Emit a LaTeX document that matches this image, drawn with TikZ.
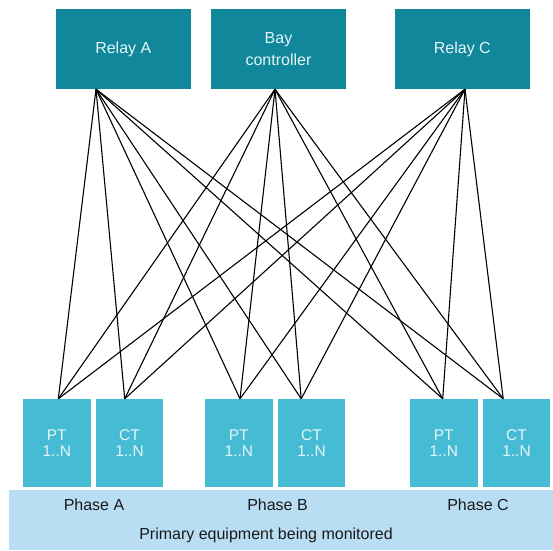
\documentclass[tikz,border=0pt]{standalone}
\usepackage{fontspec}
\setmainfont{Liberation Sans}
\usepackage{tikz}
\usetikzlibrary{positioning, calc}
\definecolor{relayteal}{HTML}{10879A}
\definecolor{sensorcyan}{HTML}{45BCD4}
\definecolor{bandblue}{HTML}{B9DEF4}
\definecolor{boxtext}{HTML}{E4F5F8}
\definecolor{darktext}{HTML}{1A1A1A}

\begin{document}
\begin{tikzpicture}[
    x=1pt, y=-1pt,
    relay/.style={fill=relayteal, minimum width=134.7pt, minimum height=80pt,
                  inner sep=0pt, text=boxtext, align=center,
                  font=\fontsize{16}{21.6}\selectfont},
    sensor/.style={fill=sensorcyan, minimum width=67.7pt, minimum height=88pt,
                   inner sep=0pt, text=boxtext, align=center,
                   font=\fontsize{15.5}{16}\selectfont},
    phasetext/.style={text=darktext, font=\fontsize{16}{19}\selectfont, inner sep=0pt},
    wire/.style={black, line width=1.1pt},
]
    \useasboundingbox[fill=white] (0,0) rectangle (553,550);

    % Relays and bay controller
    \node[relay] (relayA) at (123.3,49) {Relay A};
    \node[relay] (bay) at (278.5,49) {Bay\\controller};
    \node[relay] (relayC) at (462.3,49) {Relay C};

    % Primary equipment band
    \node[fill=bandblue, minimum width=544pt, minimum height=60pt, inner sep=0pt] (band) at (281,520) {};
    \node[phasetext] (phaseA) at (94,505) {Phase A};
    \node[phasetext] (phaseB) at (277.5,505) {Phase B};
    \node[phasetext] (phaseC) at (478,505) {Phase C};
    \node[phasetext] (primary) at (266,535) {Primary equipment being monitored};

    % PT / CT per phase
    \node[sensor] (ptA) at (56.8,443) {PT\\1..N};
    \node[sensor, right=4.6pt of ptA] (ctA) {CT\\1..N};
    \node[sensor] (ptB) at (238.8,443) {PT\\1..N};
    \node[sensor, right=4.6pt of ptB] (ctB) {CT\\1..N};
    \node[sensor] (ptC) at (443.8,443) {PT\\1..N};
    \node[sensor, right=4.6pt of ptC] (ctC) {CT\\1..N};

    % Wire end points
    \coordinate (relayA-out) at ($(relayA.south)+(-27.3,0)$);
    \coordinate (bay-out) at ($(bay.south)+(-3.5,0)$);
    \coordinate (relayC-out) at ($(relayC.south)+(2.7,0)$);
    \coordinate (ptA-in) at ($(ptA.north)+(1.5,0)$);
    \coordinate (ctA-in) at ($(ctA.north)+(-4.8,0)$);
    \coordinate (ptB-in) at ($(ptB.north)+(1.2,0)$);
    \coordinate (ctB-in) at ($(ctB.north)+(-10.3,0)$);
    \coordinate (ptC-in) at ($(ptC.north)+(-1.1,0)$);
    \coordinate (ctC-in) at ($(ctC.north)+(-13.3,0)$);

    % Wires
    \foreach \src in {relayA-out, bay-out, relayC-out}
        \foreach \dst in {ptA-in, ctA-in, ptB-in, ctB-in, ptC-in, ctC-in}
            \draw[wire] (\src) -- (\dst);
\end{tikzpicture}
\end{document}
